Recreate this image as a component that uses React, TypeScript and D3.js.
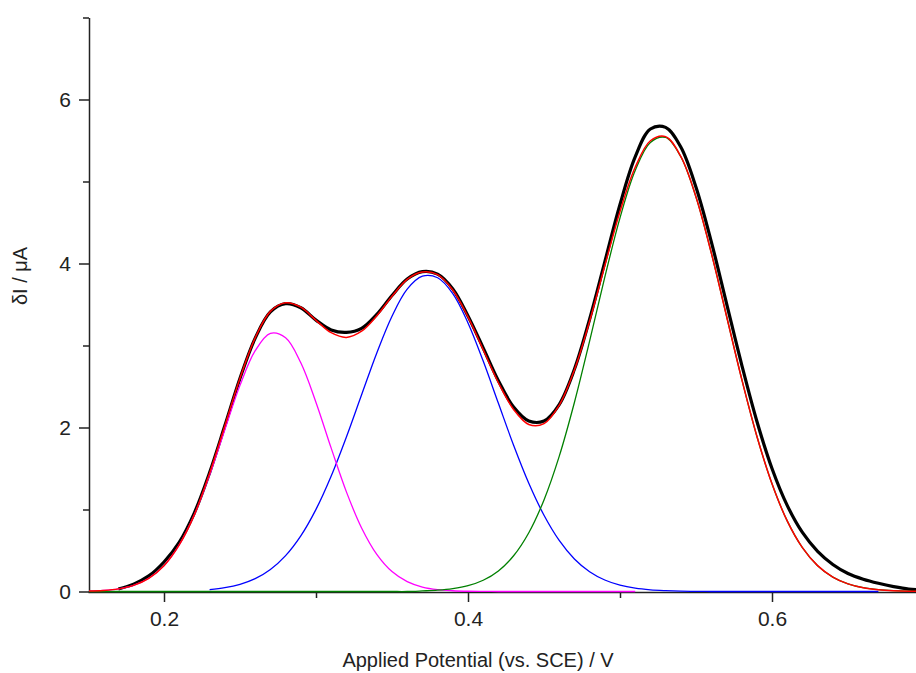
import React, { useRef, useEffect } from 'react';
import { select, scaleLinear, axisBottom, axisLeft, line, curveCatmullRom } from 'd3';

// applied potential (V vs. SCE)
const potentials = [
  0.15, 0.16, 0.17, 0.18, 0.19, 0.20, 0.21, 0.22, 0.23, 0.24, 0.25, 0.26, 0.27, 0.28,
  0.29, 0.30, 0.31, 0.32, 0.33, 0.34, 0.35, 0.36, 0.37, 0.38, 0.39, 0.40, 0.41, 0.42,
  0.43, 0.44, 0.45, 0.46, 0.47, 0.48, 0.49, 0.50, 0.51, 0.52, 0.53, 0.54, 0.55, 0.56,
  0.57, 0.58, 0.59, 0.60, 0.61, 0.62, 0.63, 0.64, 0.65, 0.66, 0.67, 0.68, 0.69, 0.70,
];

// δI (µA) — measured voltammogram
const measured = [
  null, null, 0.03, 0.09, 0.19, 0.36, 0.60, 0.96, 1.45, 2.02, 2.60, 3.09, 3.41, 3.51,
  3.46, 3.31, 3.19, 3.16, 3.21, 3.38, 3.61, 3.81, 3.90, 3.87, 3.69, 3.36, 2.97, 2.57,
  2.25, 2.08, 2.08, 2.28, 2.71, 3.32, 4.02, 4.72, 5.30, 5.64, 5.66, 5.42, 4.93, 4.27,
  3.52, 2.77, 2.08, 1.50, 1.05, 0.72, 0.49, 0.33, 0.22, 0.15, 0.10, 0.06, 0.03, 0.02,
];

// cumulative fit
const fitSum = [
  0.005, 0.013, 0.032, 0.075, 0.161, 0.315, 0.568, 0.938, 1.443, 2.019, 2.601, 3.093, 3.416, 3.521,
  3.467, 3.307, 3.156, 3.099, 3.174, 3.362, 3.600, 3.807, 3.896, 3.864, 3.677, 3.349, 2.948, 2.546,
  2.220, 2.037, 2.047, 2.271, 2.702, 3.295, 3.973, 4.634, 5.173, 5.497, 5.547, 5.306, 4.812, 4.134,
  3.366, 2.596, 1.897, 1.314, 0.861, 0.535, 0.315, 0.176, 0.093, 0.046, 0.022, 0.010, 0.004, 0.002,
];

// deconvoluted peaks
const peak1 = [
  0.005, 0.013, 0.032, 0.075, 0.161, 0.315, 0.568, 0.938, 1.420, 1.973, 2.514, 2.937, 3.148, 3.094,
  2.789, 2.306, 1.748, 1.215, 0.775, 0.453, 0.243, 0.120, 0.054, 0.022, 0.009, 0.003, 0.001, 0,
  0, 0, 0, 0, 0, 0, 0, 0, 0, null, null, null, null, null,
  null, null, null, null, null, null, null, null, null, null, null, null, null, null,
];

const peak2 = [
  null, null, null, null, null, null, null, null, 0.023, 0.046, 0.087, 0.156, 0.268, 0.437,
  0.678, 1.001, 1.408, 1.884, 2.399, 2.909, 3.357, 3.687, 3.845, 3.826, 3.633, 3.275, 2.810, 2.295,
  1.784, 1.320, 0.930, 0.623, 0.397, 0.241, 0.140, 0.077, 0.040, 0.020, 0.010, 0.004, 0.002, 0,
  0, 0, 0, 0, 0, 0, 0, 0, 0, 0, 0, null, null, null,
];

const peak3 = [
  0, 0, 0, 0, 0, 0, 0, 0, 0, 0, 0, 0, 0, 0,
  0, 0, 0, 0, 0, 0, 0, 0, 0.007, 0.016, 0.035, 0.071, 0.137, 0.251,
  0.436, 0.717, 1.117, 1.648, 2.305, 3.054, 3.833, 4.557, 5.133, 5.477, 5.537, 5.302, 4.810, 4.134,
  3.366, 2.596, 1.897, 1.314, 0.861, 0.535, 0.315, 0.176, 0.093, 0.046, 0.022, 0.010, 0.004, 0.002,
];

const xMajor = [0.2, 0.4, 0.6];
const xMinor = [0.3, 0.5];
const yMajor = [0, 2, 4, 6];
const yMinor = [1, 3, 5, 7];

const FONT = '"Liberation Sans", Arial, sans-serif';

const App = () => {
  const svgRef = useRef(null);

  useEffect(() => {
    const svg = select(svgRef.current);
    svg.selectAll('*').remove();

    const xScale = scaleLinear().domain([0.15, 0.7]).range([88, 924]);
    const yScale = scaleLinear().domain([0, 7]).range([591.5, 17.5]);

    // clip for the curves
    svg.append('clipPath').attr('id', 'plot-clip')
      .append('rect').attr('x', 89).attr('y', 0).attr('width', 830).attr('height', 600);

    // x axis
    const gx = svg.append('g').attr('transform', 'translate(0,592)')
      .call(axisBottom(xScale).tickValues(xMajor).tickSize(10).tickSizeOuter(0).tickPadding(9)
        .tickFormat(d => d.toFixed(1)));
    svg.append('g').attr('transform', 'translate(0,592)')
      .call(axisBottom(xScale).tickValues(xMinor).tickSize(6).tickSizeOuter(0).tickFormat(() => ''))
      .call(g => g.select('.domain').remove());

    // y axis
    const gy = svg.append('g').attr('transform', 'translate(89,0)')
      .call(axisLeft(yScale).tickValues(yMajor).tickSize(10).tickSizeOuter(0).tickPadding(8)
        .tickFormat(d => String(d)));
    svg.append('g').attr('transform', 'translate(89,0)')
      .call(axisLeft(yScale).tickValues(yMinor).tickSize(6).tickSizeOuter(0).tickFormat(() => ''))
      .call(g => g.select('.domain').remove());

    svg.selectAll('.domain, .tick line').attr('stroke', '#222').attr('stroke-width', 1.5);
    [gx, gy].forEach(g => {
      g.attr('font-size', 21).attr('font-family', FONT);
      g.selectAll('text').attr('fill', '#222');
    });

    // curves: measured at the back, fit on top
    const series = [
      { values: measured, color: '#000000', width: 3.2 },
      { values: peak2, color: '#0000ff', width: 1.3 },
      { values: peak1, color: '#ff00ff', width: 1.3 },
      { values: peak3, color: '#008000', width: 1.3 },
      { values: fitSum, color: '#ff0000', width: 1.5 },
    ];

    const plot = svg.append('g').attr('clip-path', 'url(#plot-clip)');
    series.forEach(s => {
      const lineGen = line()
        .defined((d, i) => s.values[i] !== null)
        .x((d, i) => xScale(potentials[i]))
        .y((d, i) => yScale(s.values[i]))
        .curve(curveCatmullRom.alpha(0.5));
      plot.append('path')
        .datum(potentials)
        .attr('d', lineGen)
        .attr('fill', 'none')
        .attr('stroke', s.color)
        .attr('stroke-width', s.width)
        .attr('stroke-linejoin', 'round');
    });

    // axis titles
    svg.append('text')
      .attr('x', 478).attr('y', 667)
      .attr('text-anchor', 'middle')
      .attr('font-family', FONT).attr('font-size', 20).attr('fill', '#222')
      .text('Applied Potential (vs. SCE) / V');

    svg.append('text')
      .attr('transform', 'translate(27,276) rotate(-90)')
      .attr('text-anchor', 'middle')
      .attr('font-family', FONT).attr('font-size', 20).attr('fill', '#222')
      .text('δI / μA');
  }, []);

  return (
    <svg ref={svgRef} width={916} height={673}
      style={{ position: 'absolute', left: 0, top: 0, background: '#fff' }} />
  );
};

export default App;
